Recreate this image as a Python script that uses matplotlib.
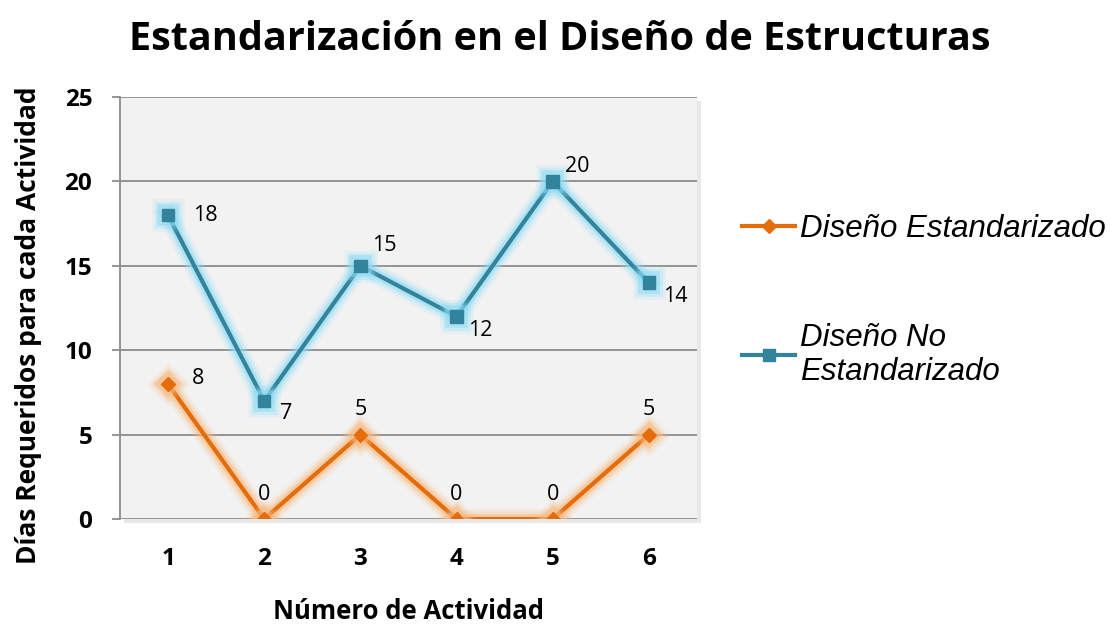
import matplotlib.pyplot as plt
import matplotlib.patheffects as pe
from matplotlib.lines import Line2D

# datos del grafico
actividades = [1, 2, 3, 4, 5, 6]
estandarizado = [8, 0, 5, 0, 0, 5]
no_estandarizado = [18, 7, 15, 12, 20, 14]
yticks = [0, 5, 10, 15, 20, 25]

# desplazamiento de las etiquetas (pixeles)
off_est = [(30, 5), (0, 25), (0, 25), (0, 25), (0, 25), (0, 25)]
off_no = [(37, 0), (22, -13), (24, 20), (24, -14), (25, 15), (26, -14)]

naranja = '#e46c0a'
azul = '#31849b'
bold_font = 'Open Sans'

fig = plt.figure(figsize=(11.16, 6.27), dpi=100)
ax = fig.add_axes([0.1075, 0.1722, 0.517, 0.673])
ax.set_facecolor('#f2f2f2')
ax.patch.set_path_effects([pe.SimplePatchShadow(offset=(3, -3), alpha=0.12), pe.Normal()])


def glow(color):
    return [pe.Stroke(linewidth=15, foreground=color, alpha=0.12),
            pe.Stroke(linewidth=11, foreground=color, alpha=0.25),
            pe.Stroke(linewidth=7, foreground=color, alpha=0.5),
            pe.Normal()]


ax.plot(actividades, estandarizado, color=naranja, lw=3, marker='D', ms=7,
        path_effects=glow('#f7b97f'), zorder=3)
ax.plot(actividades, no_estandarizado, color=azul, lw=3, marker='s', ms=9,
        path_effects=glow('#8fdcf5'), zorder=3)

for x, y, o in zip(actividades, estandarizado, off_est):
    ax.annotate(str(y), (x, y), xytext=o, textcoords='offset pixels', ha='center', va='center',
                fontsize=15.5, family='Open Sans', color='black', zorder=4)
for x, y, o in zip(actividades, no_estandarizado, off_no):
    ax.annotate(str(y), (x, y), xytext=o, textcoords='offset pixels', ha='center', va='center',
                fontsize=15.5, family='Open Sans', color='black', zorder=4)

ax.set_xlim(0.5, 6.5)
ax.set_ylim(0, 25)
ax.set_yticks(yticks)
ax.set_xticks(actividades)
ax.yaxis.grid(True, color='#8c8c8c', lw=1.3)
ax.set_axisbelow(True)
for s in ['top', 'right', 'bottom']:
    ax.spines[s].set_visible(False)
ax.spines['left'].set_color('#8c8c8c')
ax.spines['left'].set_linewidth(1.3)
ax.tick_params(axis='y', length=6, width=1.3, color='#8c8c8c', pad=14)
ax.tick_params(axis='x', length=0, pad=20)
for t in ax.get_xticklabels() + ax.get_yticklabels():
    t.set_fontfamily(bold_font)
    t.set_fontweight('bold')
    t.set_fontsize(17.5)

ax.set_xlabel('Número de Actividad', fontsize=18.5, fontweight='bold', family=bold_font)
ax.xaxis.set_label_coords(0.5, -0.186)
ax.set_ylabel('Días Requeridos para cada Actividad', fontsize=19, fontweight='bold', family=bold_font)
ax.yaxis.set_label_coords(-0.135, 0.46)

fig.text(0.502, 0.937, 'Estandarización en el Diseño de Estructuras', ha='center', va='center',
         fontsize=28.5, fontweight='bold', family=bold_font)

h1 = Line2D([], [], color=naranja, lw=3, marker='D', ms=7)
h2 = Line2D([], [], color=azul, lw=3, marker='s', ms=9)
fig.legend(handles=[h1, h2], labels=['Diseño Estandarizado', 'Diseño No\nEstandarizado'],
           loc='upper left', bbox_to_anchor=(0.665, 0.658), frameon=False,
           borderpad=0, borderaxespad=0,
           prop={'family': 'Liberation Sans', 'style': 'italic', 'size': 22.5},
           handlelength=1.7, handletextpad=0.15, labelspacing=2.5)

fig.savefig('out.png', dpi=100)
